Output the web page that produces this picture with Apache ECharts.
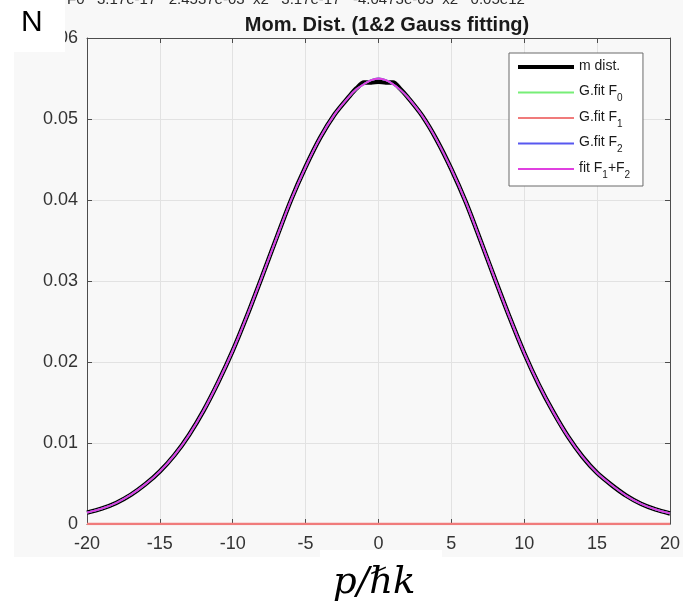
<!DOCTYPE html>
<html>
<head>
<meta charset="utf-8">
<script src="https://cdn.jsdelivr.net/npm/echarts@6/dist/echarts.min.js"></script>
<style>html,body{margin:0;padding:0;background:#fff}#c{width:683px;height:613px}</style>
</head>
<body>
<div id="c"></div>
<script>
// ---- data ----
const pX = [-20,-19,-18,-17,-16,-15,-14,-13,-12,-11,-10,-9,-8,-7,-6,-5,-4,-3,-2,-1.5,-1,-0.5,0,0.5,1,1.5,2,3,4,5,6,7,8,9,10,11,12,13,14,15,16,17,18,19,20];
const mDist = [0.0014,0.0019,0.0026,0.0036,0.0049,0.0065,0.0085,0.0110,0.0140,0.0175,0.0214,0.0258,0.0305,0.0353,0.0400,0.0441,0.0477,0.0506,0.0528,0.0538,0.0545,0.0545,0.0546,0.0545,0.0545,0.0537,0.0527,0.0504,0.0474,0.0438,0.0397,0.0350,0.0302,0.0255,0.0211,0.0172,0.0138,0.0108,0.0083,0.0063,0.0048,0.0035,0.0025,0.0018,0.0013];
const fitF0 = [0.0014,0.0019,0.0026,0.0036,0.0049,0.0065,0.0085,0.0110,0.0140,0.0175,0.0214,0.0258,0.0305,0.0353,0.0400,0.0441,0.0477,0.0506,0.0528,0.0537,0.0543,0.0548,0.0550,0.0548,0.0543,0.0536,0.0527,0.0504,0.0474,0.0438,0.0397,0.0350,0.0302,0.0255,0.0211,0.0172,0.0138,0.0108,0.0083,0.0063,0.0048,0.0035,0.0025,0.0018,0.0013];
const fitF1 = [0,0,0,0,0,0,0,0,0,0,0,0,0,0,0,0,0,0,0,0,0,0,0,0,0,0,0,0,0,0,0,0,0,0,0,0,0,0,0,0,0,0,0,0,0];
const fitF2 = [0.0014,0.0019,0.0026,0.0036,0.0049,0.0065,0.0085,0.0110,0.0140,0.0175,0.0214,0.0258,0.0305,0.0353,0.0400,0.0441,0.0477,0.0506,0.0528,0.0537,0.0543,0.0548,0.0550,0.0548,0.0543,0.0536,0.0527,0.0504,0.0474,0.0438,0.0397,0.0350,0.0302,0.0255,0.0211,0.0172,0.0138,0.0108,0.0083,0.0063,0.0048,0.0035,0.0025,0.0018,0.0013];
const fitSum = [0.0014,0.0019,0.0026,0.0036,0.0049,0.0065,0.0085,0.0110,0.0140,0.0175,0.0214,0.0258,0.0305,0.0353,0.0400,0.0441,0.0477,0.0506,0.0528,0.0537,0.0543,0.0548,0.0550,0.0548,0.0543,0.0536,0.0527,0.0504,0.0474,0.0438,0.0397,0.0350,0.0302,0.0255,0.0211,0.0172,0.0138,0.0108,0.0083,0.0063,0.0048,0.0035,0.0025,0.0018,0.0013];
const seriesNames = ['m dist.','G.fit F0','G.fit F1','G.fit F2','fit F1+F2'];
const titleText = 'Mom. Dist. (1&2 Gauss fitting)';
const topLineText = "F0   3.17e-17   2.4537e-03  x2   3.17e-17   -4.0473e-03  x2   0.05e12";
const xLabelText = 'p/\u210Fk';

const FONT = 'Liberation Sans, Arial, sans-serif';
const pairs = arr => pX.map((x, i) => [x, arr[i]]);

const chart = echarts.init(document.getElementById('c'), null, {renderer: 'canvas'});

const axisLineStyle = {color: '#4d4d4d', width: 1};
const gridLineStyle = {color: '#e2e2e2', width: 1};

const option = {
  backgroundColor: '#f8f8f8',
  animation: false,
  title: {
    text: titleText,
    left: 382, top: 10, textAlign: 'center',
    textStyle: {fontFamily: FONT, fontSize: 20, fontWeight: 'bold', color: '#1a1a1a'}
  },
  grid: {left: 87, right: 10, top: 38, bottom: 89, containLabel: false},
  xAxis: [
    {type: 'value', min: -20, max: 20, interval: 5, position: 'bottom',
     axisLine: {show: true, onZero: false, lineStyle: axisLineStyle},
     axisTick: {show: true, inside: true, length: 5, lineStyle: axisLineStyle},
     axisLabel: {fontFamily: FONT, fontSize: 18, color: '#333', margin: 11},
     splitLine: {show: true, lineStyle: gridLineStyle}},
    {type: 'value', min: -20, max: 20, interval: 5, position: 'top',
     axisLine: {show: true, onZero: false, lineStyle: axisLineStyle},
     axisTick: {show: true, inside: true, length: 5, lineStyle: axisLineStyle},
     axisLabel: {show: false}, splitLine: {show: false}}
  ],
  yAxis: [
    {type: 'value', min: 0, max: 0.06, interval: 0.01, position: 'left',
     axisLine: {show: true, onZero: false, lineStyle: axisLineStyle},
     axisTick: {show: true, inside: true, length: 5, lineStyle: axisLineStyle},
     axisLabel: {fontFamily: FONT, fontSize: 18, color: '#333', margin: 9},
     splitLine: {show: true, lineStyle: gridLineStyle}},
    {type: 'value', min: 0, max: 0.06, interval: 0.01, position: 'right',
     axisLine: {show: true, onZero: false, lineStyle: axisLineStyle},
     axisTick: {show: true, inside: true, length: 5, lineStyle: axisLineStyle},
     axisLabel: {show: false}, splitLine: {show: false}}
  ],
  legend: {
    orient: 'vertical', left: 509, top: 53,
    padding: [6, 10, 6, 7], itemGap: 6.5,
    itemWidth: 56, itemHeight: 14,
    backgroundColor: '#ffffff', borderColor: '#6b6b6b', borderWidth: 1,
    borderRadius: 0,
    itemStyle: {color: 'rgba(0,0,0,0)', borderWidth: 0, opacity: 0},
    formatter: function (name) {
      return '{n|' + name.replace(/F(\d)/g, 'F}{s|$1}{n|') + '}{s| }';
    },
    textStyle: {
      fontFamily: FONT, fontSize: 14, color: '#1a1a1a',
      rich: {
        n: {fontFamily: FONT, fontSize: 14, lineHeight: 16, verticalAlign: 'top', color: '#1a1a1a'},
        s: {fontFamily: FONT, fontSize: 10, lineHeight: 11, padding: [9, 0, 0, 0], verticalAlign: 'top', color: '#1a1a1a'}
      }
    },
    data: [
      {name: seriesNames[0], lineStyle: {width: 4}},
      {name: seriesNames[1], lineStyle: {width: 2}},
      {name: seriesNames[2], lineStyle: {width: 2}},
      {name: seriesNames[3], lineStyle: {width: 2}},
      {name: seriesNames[4], lineStyle: {width: 2}}
    ]
  },
  series: [
    {name: seriesNames[0], type: 'line', data: pairs(mDist), symbol: 'none', smooth: 0.3, z: 2,
     lineStyle: {color: '#000000', width: 4.5}, itemStyle: {color: '#000000'}},
    {name: seriesNames[1], type: 'line', data: pairs(fitF0), symbol: 'none', smooth: 0.3, z: 3,
     lineStyle: {color: '#77ee77', width: 1.8}, itemStyle: {color: '#77ee77'}},
    {name: seriesNames[2], type: 'line', data: pairs(fitF1), symbol: 'none', z: 6,
     lineStyle: {color: '#f07b7b', width: 2.5}, itemStyle: {color: '#f07b7b'}},
    {name: seriesNames[3], type: 'line', data: pairs(fitF2), symbol: 'none', smooth: 0.3, z: 4,
     lineStyle: {color: '#5858f0', width: 1.8}, itemStyle: {color: '#5858f0'}},
    {name: seriesNames[4], type: 'line', data: pairs(fitSum), symbol: 'none', smooth: 0.3, z: 5,
     lineStyle: {color: '#e040e0', width: 1.8}, itemStyle: {color: '#e040e0'}}
  ],
  graphic: [
    {type: 'rect', left: 0, top: 0, shape: {width: 14, height: 613}, style: {fill: '#ffffff'}, z: 100, silent: true},
    {type: 'rect', left: 0, top: 557, shape: {width: 683, height: 56}, style: {fill: '#ffffff'}, z: 100, silent: true},
    {type: 'rect', left: 320, top: 550, shape: {width: 122, height: 8}, style: {fill: '#ffffff'}, z: 100, silent: true},
    {type: 'text', left: 67, top: -8, z: 90, silent: true,
     style: {text: topLineText, font: '15px ' + FONT, fill: '#2a2a2a'}},
    {type: 'rect', left: 0, top: 0, shape: {width: 65, height: 52}, style: {fill: '#ffffff'}, z: 100, silent: true},
    {type: 'text', left: 21, top: 8, z: 101, silent: true,
     style: {text: 'N', font: '30px ' + FONT, fill: '#000000'}},
    {type: 'text', left: 333, top: 565, z: 101, silent: true,
     style: {text: xLabelText, font: 'italic 37px "DejaVu Serif", serif', fill: '#000000'}}
  ]
};
chart.setOption(option);
</script>
</body>
</html>
